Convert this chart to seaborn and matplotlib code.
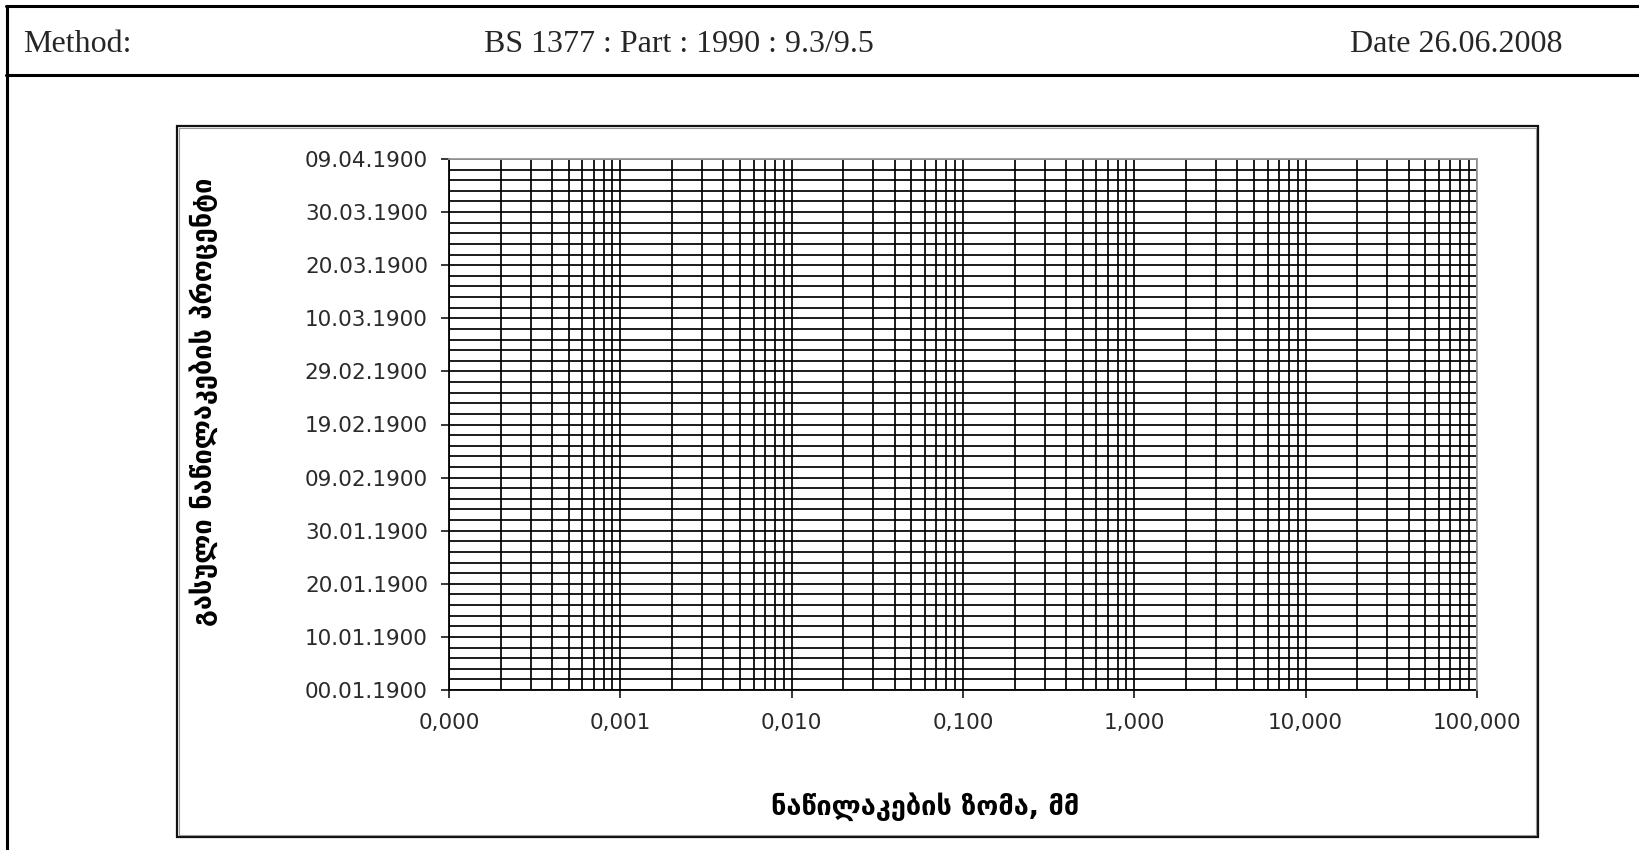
import matplotlib
matplotlib.use("Agg")
import matplotlib.pyplot as plt
import matplotlib.ticker as mticker
from matplotlib.lines import Line2D
from matplotlib.patches import Rectangle
import seaborn as sns
import numpy as np

# ---- data (axis definitions; chart has no series) ----
x_min, x_max = 0.0001, 100.0
y_min, y_max = 0, 100
x_major = [0.0001, 0.001, 0.01, 0.1, 1, 10, 100]
x_labels = ["0,000", "0,001", "0,010", "0,100", "1,000", "10,000", "100,000"]
y_major = [0, 10, 20, 30, 40, 50, 60, 70, 80, 90, 100]
y_labels = ["00.01.1900", "10.01.1900", "20.01.1900", "30.01.1900", "09.02.1900",
            "19.02.1900", "29.02.1900", "10.03.1900", "20.03.1900", "30.03.1900",
            "09.04.1900"]
y_minor_step = 2
x_title = "ნაწილაკების ზომა, მმ"
y_title = "გასული ნაწილაკების პროცენტი"
header_left = "Method:"
header_mid = "BS 1377 : Part : 1990 : 9.3/9.5"
header_right = "Date 26.06.2008"

sns.set_theme(style="white")
plt.rcParams['font.family'] = ['DejaVu Sans']

W, H = 1639, 850
fig = plt.figure(figsize=(W / 100, H / 100), dpi=100)
fig.patch.set_facecolor("white")

def fx(px):
    return px / W

def fy(py):
    return 1 - py / H

# plot area
L, R, T, B = 449, 1477, 159, 690
ax = fig.add_axes([fx(L), fy(B), (R - L) / W, (B - T) / H])
ax.set_facecolor("white")

# empty seaborn layer (the reference chart has no plotted series)
sns.lineplot(x=np.array([], dtype=float), y=np.array([], dtype=float), ax=ax)

ax.set_xscale("log")
ax.set_xlim(x_min, x_max)
ax.set_ylim(y_min, y_max)

ax.xaxis.set_major_locator(mticker.FixedLocator(x_major))
ax.xaxis.set_major_formatter(mticker.FixedFormatter(x_labels))
ax.xaxis.set_minor_locator(mticker.LogLocator(base=10, subs=np.arange(2, 10)))
ax.xaxis.set_minor_formatter(mticker.NullFormatter())
ax.yaxis.set_major_locator(mticker.FixedLocator(y_major))
ax.yaxis.set_major_formatter(mticker.FixedFormatter(y_labels))
ax.yaxis.set_minor_locator(mticker.MultipleLocator(y_minor_step))

ax.grid(True, which="both", color="black", linewidth=1.25)
ax.set_axisbelow(True)

ax.tick_params(axis="both", which="major", direction="out", length=5.8, width=1.1,
               color="black", labelcolor="#2a2a2a", labelsize=15.5)
ax.tick_params(axis="x", which="major", pad=11, bottom=True)
ax.tick_params(axis="y", which="major", pad=9.4, left=True)
ax.tick_params(axis="both", which="minor", length=0)

for side in ["left", "bottom"]:
    ax.spines[side].set_color("black")
    ax.spines[side].set_linewidth(1.3)
    ax.spines[side].set_visible(True)
for side in ["top", "right"]:
    ax.spines[side].set_color("#9a9a9a")
    ax.spines[side].set_linewidth(1.3)
    ax.spines[side].set_visible(True)
    ax.spines[side].set_zorder(5)

ax.set_xlabel(x_title, fontsize=19.5, fontweight="bold", family=["DejaVu Sans"], color="black")
ax.xaxis.set_label_coords((925 - L) / (R - L), (B - 807) / (B - T))
ax.xaxis.label.set_va("center")
ax.set_ylabel(y_title, fontsize=19.5, fontweight="bold", family=["DejaVu Sans"], color="black")
ax.yaxis.set_label_coords((204 - L) / (R - L), (B - 402) / (B - T))
ax.yaxis.label.set_va("center")

# chart-area frame
fig.patches.append(Rectangle((fx(177), fy(837)), (1538 - 177) / W, (837 - 126) / H,
                             transform=fig.transFigure, fill=False,
                             edgecolor="#111111", linewidth=1.6, zorder=3))
fig.patches.append(Rectangle((fx(179), fy(835)), (1536 - 179) / W, (835 - 128) / H,
                             transform=fig.transFigure, fill=False,
                             edgecolor="#9a9a9a", linewidth=0.8, zorder=3))

# page/table borders
fig.lines.append(Line2D([fx(7), fx(7)], [fy(6), 0], transform=fig.transFigure,
                        color="black", linewidth=2.2))
fig.lines.append(Line2D([fx(6), 1], [fy(6), fy(6)], transform=fig.transFigure,
                        color="black", linewidth=2.2))
fig.lines.append(Line2D([fx(6), 1], [fy(75), fy(75)], transform=fig.transFigure,
                        color="black", linewidth=2.2))

serif = ["Liberation Serif", "DejaVu Serif"]
fig.text(fx(23), fy(52), header_left, family=serif, fontsize=23, ha="left", va="baseline")
fig.text(fx(484), fy(52), header_mid, family=serif, fontsize=23, ha="left", va="baseline")
fig.text(fx(1563), fy(52), header_right, family=serif, fontsize=23, ha="right", va="baseline")

fig.savefig("out.png", dpi=100, facecolor="white")
